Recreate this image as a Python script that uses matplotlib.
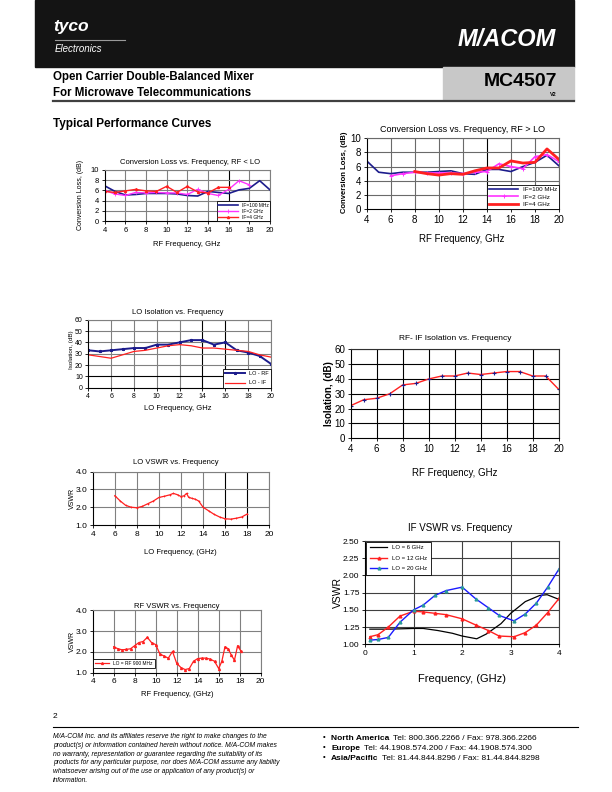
import numpy as np
import matplotlib.pyplot as plt
from matplotlib.patches import Rectangle
from matplotlib.lines import Line2D

W, H = 612, 792
NARROW = ['Liberation Sans Narrow', 'Liberation Sans', 'DejaVu Sans']
plt.rcParams['font.family'] = ['Liberation Sans', 'DejaVu Sans']

# ---- data ----
freq = np.arange(4, 21)

# conversion loss, RF < LO
cl1_if100 = [6.9, 5.8, 5.1, 5.2, 5.4, 5.4, 5.4, 5.3, 5.0, 4.9, 5.8, 5.6, 5.4, 6.1, 6.4, 7.9, 6.1]
cl1_if2_f = np.arange(4, 19)
cl1_if2 = [6.0, 5.3, 5.0, 5.6, 5.5, 5.6, 5.5, 5.5, 5.2, 6.2, 5.4, 5.0, 6.2, 7.9, 7.1]
cl1_if4_f = np.arange(4, 17)
cl1_if4 = [5.8, 5.6, 5.9, 6.2, 5.9, 5.8, 6.8, 5.6, 6.8, 5.7, 5.5, 6.6, 6.6]

# conversion loss, RF > LO
cl2_if100 = [6.8, 5.2, 5.0, 5.2, 5.2, 5.2, 5.3, 5.4, 5.0, 4.9, 5.6, 5.6, 5.3, 6.0, 6.6, 7.6, 6.1]
cl2_if2_f = np.arange(6, 21)
cl2_if2 = [4.7, 5.0, 5.2, 5.1, 5.1, 5.1, 5.0, 5.2, 5.3, 6.4, 6.0, 5.7, 7.4, 7.7, 6.7]
cl2_if4_f = np.arange(8, 21)
cl2_if4 = [5.3, 5.0, 4.8, 5.0, 4.9, 5.4, 5.8, 5.8, 6.8, 6.5, 6.6, 8.5, 7.0]

# LO isolation
lo_rf = [33, 32, 33, 34, 35, 35, 38, 38, 40, 42, 42, 38, 40, 33, 31, 28, 21]
lo_if = [29, 27.5, 26, 29, 32, 33, 35, 37, 38, 37, 35, 35, 34, 33, 32, 29, 27]

# RF-IF isolation
rf_if = [22, 26, 27, 30, 36, 37, 40, 42, 42, 44, 43, 44, 45, 45, 42, 42, 33]

# LO VSWR
lov_f = [6, 6.5, 7, 7.5, 8, 8.5, 9, 9.5, 10, 10.5, 11, 11.3, 11.7, 12, 12.3, 12.5,
         12.7, 13, 13.3, 13.6, 14, 14.5, 15, 15.5, 16, 16.5, 17, 17.5, 18]
lov = [2.65, 2.35, 2.1, 2.0, 1.97, 2.05, 2.2, 2.35, 2.55, 2.62, 2.7, 2.78, 2.7, 2.6, 2.65, 2.78,
       2.55, 2.5, 2.45, 2.35, 2.0, 1.8, 1.6, 1.45, 1.35, 1.33, 1.38, 1.45, 1.62]

# RF VSWR
rfv_f = [6, 6.4, 6.8, 7.2, 7.6, 8, 8.4, 8.8, 9.2, 9.6, 10, 10.4, 10.8, 11.2, 11.6, 12, 12.4,
         12.8, 13.2, 13.6, 14, 14.4, 14.8, 15.2, 15.6, 16, 16.3, 16.6, 16.9, 17.2, 17.5, 17.8, 18.1]
rfv = [2.25, 2.15, 2.1, 2.12, 2.15, 2.3, 2.45, 2.5, 2.7, 2.45, 2.35, 1.9, 1.8, 1.7, 2.02, 1.45, 1.25,
       1.15, 1.2, 1.55, 1.68, 1.7, 1.7, 1.65, 1.55, 1.2, 1.55, 2.25, 2.15, 1.85, 1.6, 2.3, 2.05]

# IF VSWR
ifv6_f = [0.1, 0.5, 1.0, 1.2, 1.5, 1.8, 2.0, 2.3, 2.5, 2.8, 3.0, 3.3, 3.6, 3.75, 4.0]
ifv6 = [1.22, 1.22, 1.23, 1.23, 1.2, 1.16, 1.12, 1.08, 1.15, 1.3, 1.45, 1.62, 1.71, 1.72, 1.65]
ifv_f = [0.1, 0.27, 0.48, 0.72, 1.0, 1.2, 1.44, 1.67, 2.0, 2.28, 2.54, 2.76, 3.07, 3.3, 3.53, 3.76, 4.0]
ifv12 = [1.11, 1.14, 1.25, 1.41, 1.48, 1.47, 1.45, 1.43, 1.37, 1.28, 1.2, 1.12, 1.11, 1.17, 1.28, 1.46, 1.67]
ifv20 = [1.06, 1.07, 1.1, 1.32, 1.5, 1.57, 1.71, 1.78, 1.83, 1.66, 1.53, 1.42, 1.34, 1.44, 1.6, 1.83, 2.1]

fig = plt.figure(figsize=(W / 100, H / 100), dpi=100)


def fx(x):
    return x / W


def fy(y):
    return 1 - y / H


def txt(x, y, s, **kw):
    return fig.text(fx(x), fy(y), s, **kw)


def hline(x0, x1, y, **kw):
    fig.lines.append(Line2D([fx(x0), fx(x1)], [fy(y), fy(y)], transform=fig.transFigure, **kw))


def make_ax(x0, y0, x1, y1, xlim, ylim, xt, yt, fs, grid='#808080', dark_x=(), dark_y=(), yfmt=None):
    ax = fig.add_axes([fx(x0), fy(y1), (x1 - x0) / W, (y1 - y0) / H])
    ax.set_xlim(*xlim)
    ax.set_ylim(*ylim)
    ax.set_xticks(xt)
    ax.set_yticks(yt)
    if yfmt:
        ax.set_yticklabels([yfmt % v for v in yt])
    for v in xt[1:]:
        ax.axvline(v, color='black' if v in dark_x else grid, lw=0.8, zorder=0)
    for v in yt[1:]:
        ax.axhline(v, color='black' if v in dark_y else grid, lw=0.8, zorder=0)
    for s in ax.spines.values():
        s.set_color(grid)
        s.set_linewidth(0.8)
    ax.spines['left'].set_color('black')
    ax.spines['bottom'].set_color('black')
    ax.tick_params(labelsize=fs, length=2, width=0.6, pad=2)
    for lab in ax.get_xticklabels() + ax.get_yticklabels():
        lab.set_family(NARROW)
    return ax


def box_legend(ax, **kw):
    leg = ax.legend(frameon=True, fancybox=False, borderaxespad=0, framealpha=1, **kw)
    leg.get_frame().set_edgecolor('black')
    leg.get_frame().set_linewidth(0.6)
    return leg


# ---- header ----
fig.patches.append(Rectangle((fx(35), fy(67)), (574 - 35) / W, 67 / H, transform=fig.transFigure,
                             color='#141414', zorder=0))
fig.patches.append(Rectangle((fx(443), fy(100)), (574 - 443) / W, 33 / H, transform=fig.transFigure,
                             color='#c8c8c8', zorder=0))
txt(53, 26, 'tyco', color='white', fontsize=12.5, weight='bold', style='italic', va='center')
hline(55, 125, 40, color='#9a9a9a', lw=0.8)
txt(55, 49, 'Electronics', color='white', fontsize=7, style='italic', va='center')
txt(556, 39, 'M/ACOM', color='white', fontsize=17, weight='bold', style='italic', ha='right', va='center',
    family=NARROW)
txt(53, 77, 'Open Carrier Double-Balanced Mixer', fontsize=8.3, weight='bold', va='center', family=NARROW)
txt(53, 93, 'For Microwave Telecommunications', fontsize=8.3, weight='bold', va='center', family=NARROW)
txt(557, 81, 'MC4507', fontsize=14, weight='bold', ha='right', va='center', family=NARROW)
txt(557, 95, 'V2', fontsize=4, weight='bold', ha='right', va='center')
hline(53, 574, 101, color='#404040', lw=1.6)
txt(53, 124, 'Typical Performance Curves', fontsize=8.5, weight='bold', va='center')

# ---- chart 1: conversion loss RF < LO ----
ax = make_ax(104.7, 170, 270, 221, (4, 20), (0, 10), range(4, 21, 2), range(0, 11, 2), 5.5, dark_x=(16,))
ax.plot(freq, cl1_if100, color='#1c1c8c', lw=1.2, label='IF=100 MHz')
ax.plot(cl1_if2_f, cl1_if2, color='#ff33ff', lw=1.0, marker='+', ms=2.5, mew=0.6, label='IF=2 GHz')
ax.plot(cl1_if4_f, cl1_if4, color='#ff2020', lw=1.0, marker='^', ms=1.5, label='IF=4 GHz')
box_legend(ax, loc='lower right', fontsize=3.5, borderpad=0.3, handlelength=4, labelspacing=0.2)
txt(190, 163, 'Conversion Loss vs. Frequency, RF < LO', fontsize=5.5, ha='center', va='center', family=NARROW)
txt(187, 244, 'RF Frequency, GHz', fontsize=5.5, ha='center', va='center', family=NARROW)
txt(81, 195, 'Conversion Loss, (dB)', fontsize=5, ha='center', va='center', rotation=90, family=NARROW)

# ---- chart 2: conversion loss RF > LO ----
ax = make_ax(366.7, 138.3, 559, 209, (4, 20), (0, 10), range(4, 21, 2), range(0, 11, 2), 7,
             grid='#6a6a6a', dark_x=(14,))
ax.plot(freq, cl2_if100, color='#1c1c8c', lw=1.2, label='IF=100 MHz')
ax.plot(cl2_if2_f, cl2_if2, color='#ff33ff', lw=1.2, marker='+', ms=3, mew=0.7, label='IF=2 GHz')
ax.plot(cl2_if4_f, cl2_if4, color='#ff2020', lw=2.0, label='IF=4 GHz')
box_legend(ax, loc='lower right', fontsize=4.5, borderpad=0.35, handlelength=4.5, labelspacing=0.3)
txt(462, 129, 'Conversion Loss vs. Frequency, RF > LO', fontsize=6.5, ha='center', va='center', family=NARROW)
txt(462, 239, 'RF Frequency, GHz', fontsize=7, ha='center', va='center', family=NARROW)
txt(345, 172, 'Conversion Loss, (dB)', fontsize=5.5, ha='center', va='center', rotation=90, weight='bold',
    family=NARROW)

# ---- chart 3: LO isolation ----
ax = make_ax(88.3, 319.7, 271, 387.7, (4, 20), (0, 60), range(4, 21, 2), range(0, 61, 10), 5,
             dark_x=(14, 16), dark_y=(10,))
ax.plot(freq, lo_rf, color='#1c1c8c', lw=1.4, marker='*', ms=2, label='LO - RF')
ax.plot(freq, lo_if, color='#ff2020', lw=0.9, label='LO - IF')
box_legend(ax, loc='lower right', fontsize=4, borderpad=0.4, handlelength=3.5, labelspacing=0.8)
txt(178, 312, 'LO Isolation vs. Frequency', fontsize=5.5, ha='center', va='center', family=NARROW)
txt(178, 409, 'LO Frequency, GHz', fontsize=5.5, ha='center', va='center', family=NARROW)
txt(72, 350, 'Isolation, (dB)', fontsize=4.5, ha='center', va='center', rotation=90, family=NARROW)

# ---- chart 4: RF-IF isolation ----
ax = make_ax(350.7, 349.3, 558.7, 438.3, (4, 20), (0, 60), range(4, 21, 2), range(0, 61, 10), 7,
             grid='#303030', dark_x=tuple(range(6, 21, 2)), dark_y=tuple(range(10, 51, 10)))
ax.plot(freq, rf_if, color='#ff2020', lw=1.0, marker='+', ms=3, mec='#1c1c8c', mew=0.8)
txt(455, 339, 'RF- IF Isolation vs. Frequency', fontsize=6, ha='center', va='center', family=NARROW)
txt(455, 473, 'RF Frequency, GHz', fontsize=7, ha='center', va='center', family=NARROW)
txt(329, 394, 'Isolation, (dB)', fontsize=7, ha='center', va='center', rotation=90, weight='bold',
    family=NARROW)

# ---- chart 5: LO VSWR ----
ax = make_ax(92.7, 471.7, 269.3, 525, (4, 20), (1, 4), range(4, 21, 2), [1, 2, 3, 4], 6,
             dark_x=(16, 18), yfmt='%.1f')
ax.plot(lov_f, lov, color='#ff2020', lw=0.9, marker='+', ms=2, mew=0.5)
txt(176, 462, 'LO VSWR vs. Frequency', fontsize=5.5, ha='center', va='center', family=NARROW)
txt(180, 552, 'LO Frequency, (GHz)', fontsize=5.5, ha='center', va='center', family=NARROW)
txt(72, 498, 'VSWR', fontsize=5, ha='center', va='center', rotation=90, family=NARROW)

# ---- chart 6: RF VSWR ----
ax = make_ax(92.7, 610.3, 260.7, 672.7, (4, 20), (1, 4), range(4, 21, 2), [1, 2, 3, 4], 6,
             yfmt='%.1f')
ax.plot(rfv_f, rfv, color='#ff2020', lw=0.9, marker='^', ms=1.4, label='LO = RF 900 MHz')
box_legend(ax, loc='lower left', fontsize=3.5, borderpad=0.4, handlelength=3, bbox_to_anchor=(0.0, 0.08))
txt(177, 606, 'RF VSWR vs. Frequency', fontsize=5.5, ha='center', va='center', family=NARROW)
txt(177, 694, 'RF Frequency, (GHz)', fontsize=5.5, ha='center', va='center', family=NARROW)
txt(72, 641, 'VSWR', fontsize=5, ha='center', va='center', rotation=90, family=NARROW)

# ---- chart 7: IF VSWR ----
ax = make_ax(365, 541, 559.3, 644.3, (0, 4), (1, 2.5), range(0, 5), np.arange(1, 2.51, 0.25), 6,
             grid='#404040', yfmt='%.2f')
ax.plot(ifv6_f, ifv6, color='black', lw=0.9, label='LO = 6 GHz')
ax.plot(ifv_f, ifv12, color='#ff2020', lw=1.0, marker='^', ms=2, label='LO = 12 GHz')
ax.plot(ifv_f, ifv20, color='#1a1aff', lw=1.0, marker='^', ms=2, mfc='#2a9a9a', mec='#2a9a9a',
        label='LO = 20 GHz')
box_legend(ax, loc='upper left', fontsize=4.3, borderpad=0.6, handlelength=3, labelspacing=0.9,
           bbox_to_anchor=(0.005, 0.995))
txt(460, 528, 'IF VSWR vs. Frequency', fontsize=7, ha='center', va='center', family=NARROW)
txt(462, 679, 'Frequency, (GHz)', fontsize=8, ha='center', va='center', family=NARROW)
txt(338, 592, 'VSWR', fontsize=7.5, ha='center', va='center', rotation=90, family=NARROW)

# ---- footer ----
txt(53, 716, '2', fontsize=6, va='center')
hline(53, 578, 727, color='black', lw=0.8)
disclaimer = ['M/A-COM Inc. and its affiliates reserve the right to make changes to the',
              'product(s) or information contained herein without notice. M/A-COM makes',
              'no warranty, representation or guarantee regarding the suitability of its',
              'products for any particular purpose, nor does M/A-COM assume any liability',
              'whatsoever arising out of the use or application of any product(s) or',
              'information.']
for i, line in enumerate(disclaimer):
    txt(53, 737 + i * 8.6, line, fontsize=4.9, style='italic', va='center')
contacts = [('North America', 'Tel: 800.366.2266 / Fax: 978.366.2266'),
            ('Europe', 'Tel: 44.1908.574.200 / Fax: 44.1908.574.300'),
            ('Asia/Pacific', 'Tel: 81.44.844.8296 / Fax: 81.44.844.8298')]
renderer = fig.canvas.get_renderer()
for i, (reg, tel) in enumerate(contacts):
    y = 738 + i * 10.5
    txt(323, y - 1, '\u2022', fontsize=5.5, va='center')
    t = txt(331, y, reg, fontsize=6, weight='bold', va='center')
    bb = t.get_window_extent(renderer=renderer)
    fig.text(bb.x1 / W + 4 / W, fy(y), tel, fontsize=6, va='center')

fig.savefig('out.png', dpi=100)
